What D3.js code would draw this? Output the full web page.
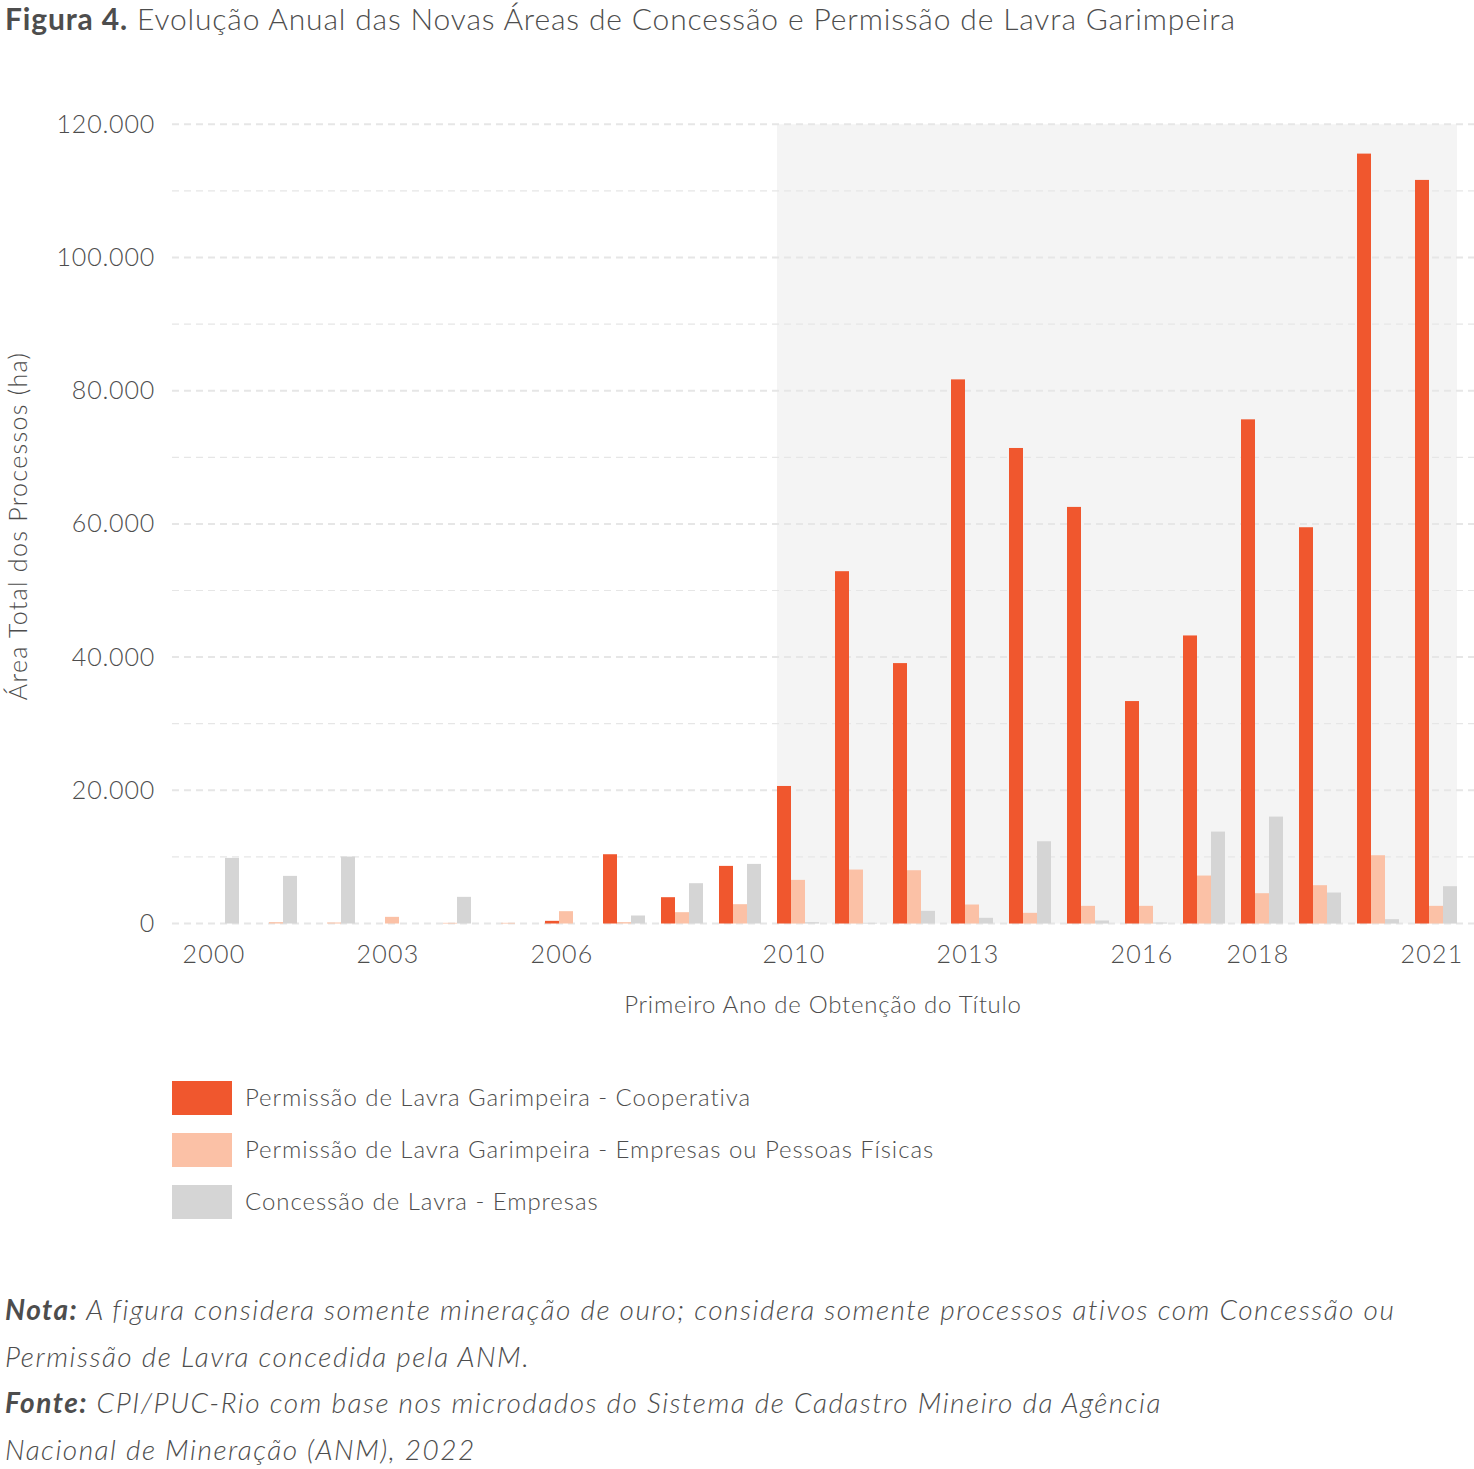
<!DOCTYPE html>
<html>
<head>
<meta charset="utf-8">
<script src="https://cdn.jsdelivr.net/npm/d3@7"></script>
<style>
  body { margin: 0; background: #fff; }
  text { font-family: Lato, "Open Sans", sans-serif; fill: #4d4d4d; }
</style>
</head>
<body>
<div id="chart"></div>
<script>
const years = d3.range(2000, 2022)
const labeledYears = [2000, 2003, 2006, 2010, 2013, 2016, 2018, 2021]
const seriesNames = [
  "Permissão de Lavra Garimpeira - Cooperativa",
  "Permissão de Lavra Garimpeira - Empresas ou Pessoas Físicas",
  "Concessão de Lavra - Empresas"
]
const seriesColors = ["#f0572e", "#fbc1a6", "#d5d5d5"]
// valores (ha)
const cooperativa = [0, 0, 0, 0, 0, 0, 400, 10400, 3950, 8650, 20650, 52900, 39100, 81700, 71400, 62550, 33400, 43250, 75700, 59500, 115600, 111650]
const empresasPF = [0, 200, 150, 1000, 100, 100, 1850, 200, 1700, 2900, 6550, 8100, 8000, 2850, 1600, 2650, 2650, 7200, 4550, 5750, 10250, 2650]
const concessao = [9850, 7150, 10050, 0, 4000, 0, 0, 1200, 6050, 8950, 200, 100, 1900, 850, 12350, 450, 150, 13800, 16050, 4650, 650, 5600]
const yTicks = [0, 20000, 40000, 60000, 80000, 100000, 120000]
const gridValues = d3.range(0, 120001, 10000)

const seriesValues = [cooperativa, empresasPF, concessao]

const W = 1474, H = 1469
const svg = d3.select("#chart").append("svg")
  .attr("width", W).attr("height", H)

const loc = d3.formatLocale({decimal: ",", thousands: ".", grouping: [3], currency: ["", ""]})
const fmt = loc.format(",")

// scales
const x = d3.scaleBand()
  .domain(years)
  .range([189, 1465])
  .paddingInner(16 / 58)
  .paddingOuter(8 / 58)
const xs = d3.scaleBand()
  .domain(d3.range(seriesNames.length))
  .range([0, x.bandwidth()])
const y = d3.scaleLinear()
  .domain([0, 120000])
  .range([923.5, 124.3])

// title
const title = svg.append("text").attr("x", 5).attr("y", 30)
  .style("font-size", "30px").style("letter-spacing", "0.85px")
title.append("tspan").style("font-weight", "bold").text("Figura 4.")
title.append("tspan").style("font-weight", 300).text(" Evolução Anual das Novas Áreas de Concessão e Permissão de Lavra Garimpeira")

// shaded period 2010-2021
svg.append("rect")
  .attr("x", x(2010))
  .attr("y", y(120000))
  .attr("width", x(2021) + x.bandwidth() - x(2010))
  .attr("height", y(0) - y(120000))
  .attr("fill", "#f4f4f4")

// gridlines
svg.append("g")
  .selectAll("line")
  .data(gridValues)
  .join("line")
    .attr("x1", 172).attr("x2", 1474)
    .attr("y1", d => y(d)).attr("y2", d => y(d))
    .attr("stroke", "#e6e6e6")
    .attr("stroke-width", d => d % 20000 === 0 ? 2 : 1.2)
    .attr("stroke-dasharray", "7,5")

// bars
const groups = svg.append("g")
  .selectAll("g")
  .data(years)
  .join("g")
    .attr("transform", d => "translate(" + x(d) + ",0)")
groups.selectAll("rect")
  .data((d, i) => seriesValues.map((s, k) => ({k: k, v: s[i]})))
  .join("rect")
    .attr("x", d => xs(d.k))
    .attr("width", xs.bandwidth())
    .attr("y", d => y(d.v))
    .attr("height", d => y(0) - y(d.v))
    .attr("fill", d => seriesColors[d.k])

// y axis
const yAxis = svg.append("g")
  .attr("transform", "translate(172,0)")
  .call(d3.axisLeft(y).tickValues(yTicks).tickFormat(fmt).tickSize(0).tickPadding(17))
yAxis.select(".domain").remove()
yAxis.selectAll("text")
  .style("font-size", "25px").style("font-family", "Lato, sans-serif")
  .style("font-weight", 300).style("letter-spacing", "0.8px")
  .attr("fill", "#4d4d4d")

// x axis
const xAxis = svg.append("g")
  .attr("transform", "translate(-4," + y(0) + ")")
  .call(d3.axisBottom(x).tickValues(labeledYears).tickSize(0).tickPadding(22))
xAxis.select(".domain").remove()
xAxis.selectAll("text")
  .style("font-size", "25px").style("font-family", "Lato, sans-serif")
  .style("font-weight", 300).style("letter-spacing", "1.2px")
  .attr("fill", "#4d4d4d")

// axis titles
svg.append("text")
  .attr("x", 823).attr("y", 1013)
  .attr("text-anchor", "middle")
  .style("font-size", "24px").style("font-weight", 300).style("letter-spacing", "0.75px")
  .text("Primeiro Ano de Obtenção do Título")
svg.append("text")
  .attr("transform", "translate(27,526) rotate(-90)")
  .attr("text-anchor", "middle")
  .style("font-size", "25px").style("font-weight", 300).style("letter-spacing", "1.3px")
  .text("Área Total dos Processos (ha)")

// legend
const legend = svg.append("g")
  .selectAll("g")
  .data(seriesNames)
  .join("g")
    .attr("transform", (d, i) => "translate(172," + (1081 + i * 52) + ")")
legend.append("rect")
  .attr("width", 60).attr("height", 34)
  .attr("fill", (d, i) => seriesColors[i])
legend.append("text")
  .attr("x", 73).attr("y", 25)
  .style("font-size", "24px").style("font-weight", 300).style("letter-spacing", "0.95px")
  .text(d => d)

// notes
const notes = [
  ["Nota:", " A figura considera somente mineração de ouro; considera somente processos ativos com Concessão ou"],
  ["", "Permissão de Lavra concedida pela ANM."],
  ["Fonte:", " CPI/PUC-Rio com base nos microdados do Sistema de Cadastro Mineiro da Agência"],
  ["", "Nacional de Mineração (ANM), 2022"]
]
notes.forEach((n, i) => {
  const t = svg.append("text")
    .attr("x", 5).attr("y", 1320 + i * 46.5)
    .style("font-size", "28px")
    .style("font-style", "italic")
    .style("letter-spacing", "1.5px")
  if (n[0]) t.append("tspan").style("font-weight", "bold").text(n[0])
  t.append("tspan").style("font-weight", 300).text(n[1])
})
</script>
</body>
</html>
